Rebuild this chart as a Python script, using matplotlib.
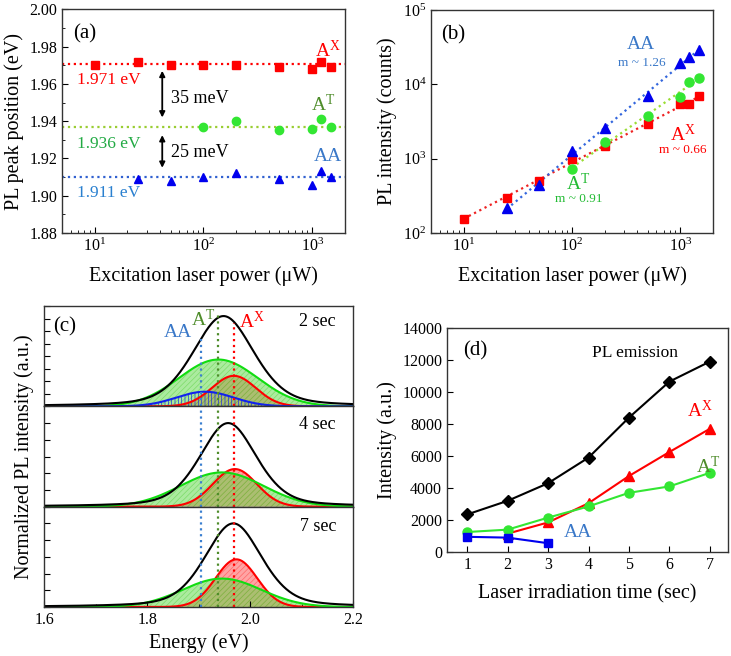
import numpy as np
import matplotlib
matplotlib.use('Agg')
import matplotlib.pyplot as plt
from matplotlib.ticker import MultipleLocator, LogLocator, LogFormatterMathtext, NullFormatter, NullLocator

plt.rcParams['font.family'] = 'Liberation Serif'
plt.rcParams['mathtext.fontset'] = 'custom'
plt.rcParams['mathtext.rm'] = 'Liberation Serif'
plt.rcParams['mathtext.it'] = 'Liberation Serif:italic'
plt.rcParams['hatch.linewidth'] = 0.5
plt.rcParams['xtick.direction'] = 'in'
plt.rcParams['ytick.direction'] = 'in'
plt.rcParams['axes.edgecolor'] = '#333333'
plt.rcParams['axes.linewidth'] = 1.0

# (a) PL peak position vs excitation power
power = [10, 25, 50, 100, 200, 500, 1000, 1200, 1500]
pos_ax = [1.970, 1.972, 1.970, 1.970, 1.970, 1.969, 1.968, 1.972, 1.969]
power_at = [100, 200, 500, 1000, 1200, 1500]
pos_at = [1.937, 1.940, 1.935, 1.936, 1.941, 1.937]
power_aa = [25, 50, 100, 200, 500, 1000, 1200, 1500]
pos_aa = [1.909, 1.908, 1.910, 1.912, 1.909, 1.906, 1.913, 1.910]
levels = [1.9705, 1.937, 1.910]

# (b) PL intensity vs excitation power
int_ax = [156, 298, 504, 1000, 1500, 2900, 5400, 5400, 6900]
int_at = [723, 1700, 3800, 6760, 10900, 12300]
int_aa = [215, 445, 1250, 2620, 7040, 19100, 23500, 28900]

# (c) fitted peaks: centre (eV), height, FWHM (eV) for 2, 4, 7 sec
spec_times = ['2 sec', '4 sec', '7 sec']
tot_c = [1.948, 1.957, 1.967]
tot_h = [1.08, 1.0, 1.0]
tot_w = [0.14, 0.13, 0.13]
at_c = [1.938, 1.945, 1.945]
at_h = [0.56, 0.41, 0.34]
at_w = [0.18, 0.19, 0.18]
axc_c = [1.968, 1.970, 1.973]
axc_h = [0.365, 0.45, 0.57]
axc_w = [0.10, 0.10, 0.095]
aa_c = 1.912
aa_h = 0.175
aa_w = 0.13
marks = [1.905, 1.938, 1.969]

# (d) intensity vs irradiation time
t = [1, 2, 3, 4, 5, 6, 7]
pl_em = [2350, 3200, 4300, 5900, 8400, 10650, 11900]
t_ax = [2, 3, 4, 5, 6, 7]
d_ax = [1150, 1850, 3050, 4750, 6250, 7700]
d_at = [1250, 1400, 2150, 2850, 3700, 4100, 4950]
t_aa = [1, 2, 3]
d_aa = [950, 900, 550]

RED = '#ff0000'
GRN = '#33e633'
BLU = '#0000ee'
OLIVE = '#4e8c2a'

fig = plt.figure(figsize=(7.31, 6.56), dpi=100)


def style(ax):
    ax.tick_params(which='both', top=False, right=False, labelsize=11.5)
    ax.tick_params(which='major', length=4)
    ax.tick_params(which='minor', length=2)


# ---- (a)
axa = fig.add_axes([0.0848, 0.6448, 0.387, 0.341])
axa.set_xscale('log')
for lev, col in zip(levels, [RED, '#9acd32', '#3060d0']):
    axa.axhline(lev, color=col, ls=':', lw=1.6)
axa.plot(power, pos_ax, 's', color=RED, ms=5.5)
axa.plot(power_at, pos_at, 'o', color=GRN, ms=6)
axa.plot(power_aa, pos_aa, '^', color=BLU, ms=6)
axa.set_xlim(5, 2000)
axa.set_ylim(1.88, 2.0)
axa.yaxis.set_major_locator(MultipleLocator(0.02))
axa.yaxis.set_minor_locator(MultipleLocator(0.01))
axa.yaxis.set_major_formatter(plt.FormatStrFormatter('%.2f'))
axa.xaxis.set_major_formatter(LogFormatterMathtext())
style(axa)
axa.set_ylabel('PL peak position (eV)', fontsize=14.5)
axa.set_xlabel('Excitation laser power (μW)', fontsize=14.5, labelpad=8)
axa.text(0.08, 0.89, '(a)', transform=axa.transAxes, fontsize=15, ha='center', va='center')
axa.text(1400, 1.978, r'A$^{\rm X}$', color=RED, fontsize=14, ha='center', va='center')
axa.text(13.5, 1.962, '1.971 eV', color=RED, fontsize=12.5, ha='center', va='center')
axa.text(1270, 1.949, r'A$^{\rm T}$', color=OLIVE, fontsize=14, ha='center', va='center')
axa.text(13.5, 1.928, '1.936 eV', color='#22aa44', fontsize=12.5, ha='center', va='center')
axa.text(1400, 1.921, 'AA', color='#3a78c8', fontsize=14, ha='center', va='center')
axa.text(13.5, 1.9015, '1.911 eV', color='#2a80d0', fontsize=12.5, ha='center', va='center')
axa.annotate('', xy=(41.8, 1.9405), xytext=(41.8, 1.9685),
             arrowprops=dict(arrowstyle='<|-|>', color='k', lw=1.3, mutation_scale=8))
axa.annotate('', xy=(41.8, 1.9135), xytext=(41.8, 1.9340),
             arrowprops=dict(arrowstyle='<|-|>', color='k', lw=1.3, mutation_scale=8))
axa.text(50, 1.952, '35 meV', fontsize=13, ha='left', va='center')
axa.text(50, 1.923, '25 meV', fontsize=13, ha='left', va='center')

# ---- (b)
axb = fig.add_axes([0.5896, 0.6448, 0.3858, 0.340])
axb.set_xscale('log')
axb.set_yscale('log')
for xs, ys, col in [(power, int_ax, '#ee2222'), (power_at, int_at, '#99dd33'), (power_aa, int_aa, '#3366dd')]:
    k, b = np.polyfit(np.log10(xs), np.log10(ys), 1)
    xf = np.array([min(xs), max(xs)])
    axb.plot(xf, 10 ** (k * np.log10(xf) + b), ':', color=col, lw=1.6)
axb.plot(power, int_ax, 's', color=RED, ms=6)
axb.plot(power_at, int_at, 'o', color=GRN, ms=6.5)
axb.plot(power_aa, int_aa, '^', color=BLU, ms=6.5)
axb.set_xlim(5, 2000)
axb.set_ylim(100, 1e5)
axb.xaxis.set_major_formatter(LogFormatterMathtext())
axb.yaxis.set_major_formatter(LogFormatterMathtext())
axb.yaxis.set_minor_locator(NullLocator())
style(axb)
axb.set_ylabel('PL intensity (counts)', fontsize=14.5)
axb.set_xlabel('Excitation laser power (μW)', fontsize=14.5, labelpad=8)
axb.text(0.08, 0.89, '(b)', transform=axb.transAxes, fontsize=15, ha='center', va='center')
axb.text(437, 33800, 'AA', color='#3a78c8', fontsize=14, ha='center', va='center')
axb.text(437, 19500, 'm ~ 1.26', color='#3a78c8', fontsize=9.5, ha='center', va='center')
axb.text(1050, 2090, r'A$^{\rm X}$', color=RED, fontsize=14, ha='center', va='center')
axb.text(1050, 1290, 'm ~ 0.66', color=RED, fontsize=9.5, ha='center', va='center')
axb.text(113, 470, r'A$^{\rm T}$', color='#22bb33', fontsize=14, ha='center', va='center')
axb.text(115, 289, 'm ~ 0.91', color='#22bb33', fontsize=9.5, ha='center', va='center')


# ---- (c)
def peak(x, c, h, w, eta=0.0):
    g = np.exp(-4 * np.log(2) * ((x - c) / w) ** 2)
    lz = 1 / (1 + 4 * ((x - c) / w) ** 2)
    return h * ((1 - eta) * g + eta * lz)


energy = np.linspace(1.6, 2.2, 601)
c_left, c_w, c_bot, c_h = 0.0606, 0.4227, 0.0747, 0.4588 / 3
axes_c = []
for i in range(3):
    ax = fig.add_axes([c_left, c_bot + (2 - i) * c_h, c_w, c_h])
    axes_c.append(ax)
    red = peak(energy, axc_c[i], axc_h[i], axc_w[i])
    grn = peak(energy, at_c[i], at_h[i], at_w[i])
    tot = peak(energy, tot_c[i], tot_h[i], tot_w[i], eta=0.35)
    ax.fill_between(energy, red, color='#ff9a9a', edgecolor='#ff6060', hatch='//////', lw=0, alpha=0.9)
    ax.plot(energy, red, color=RED, lw=1.5)
    ax.fill_between(energy, grn, color=(0.35, 0.85, 0.25, 0.5), edgecolor=(0.3, 0.8, 0.2, 0.5),
                    hatch='//////', lw=0)
    ax.plot(energy, grn, color='#11dd11', lw=1.5)
    if i == 0:
        blu = peak(energy, aa_c, aa_h, aa_w)
        ax.fill_between(energy, blu, color='none', edgecolor='#2233dd', hatch='|||||', lw=0)
        ax.plot(energy, blu, color='#1122ee', lw=1.5)
    ax.plot(energy, tot, color='k', lw=1.5)
    tops = [0.70, 0.91, 0.83] if i == 0 else [1, 1, 1]
    for xm, col, ym in zip(marks, ['#3a7fd0', '#4e8c2a', '#ff0000'], tops):
        ax.axvline(xm, ymax=ym, color=col, ls=':', lw=1.6)
    ax.set_xlim(1.6, 2.2)
    ax.set_ylim(0, 1.2)
    ax.yaxis.set_major_locator(MultipleLocator(0.15 if i == 0 else 0.2))
    ax.yaxis.set_major_formatter(NullFormatter())
    ax.tick_params(axis='y', which='both', right=False, length=4)
    ax.xaxis.set_major_locator(MultipleLocator(0.2))
    ax.xaxis.set_minor_locator(MultipleLocator(0.1))
    if i < 2:
        ax.tick_params(axis='x', which='both', bottom=False, top=False, labelbottom=False)
    else:
        style(ax)
        ax.xaxis.set_major_formatter(plt.FormatStrFormatter('%.1f'))
    ax.text(2.131, [1.01, 0.98, 0.957][i], spec_times[i], fontsize=13, ha='center', va='center')

axes_c[0].text(1.64, 0.95, '(c)', fontsize=15, ha='center', va='center')
axes_c[0].text(1.86, 0.886, 'AA', color='#3a78c8', fontsize=14, ha='center', va='center')
axes_c[0].text(1.908, 1.04, r'A$^{\rm T}$', color=OLIVE, fontsize=14, ha='center', va='center')
axes_c[0].text(2.003, 1.02, r'A$^{\rm X}$', color=RED, fontsize=14, ha='center', va='center')
axes_c[2].set_xlabel('Energy (eV)', fontsize=14.5)
axes_c[1].set_ylabel('Normalized PL intensity (a.u.)', fontsize=14.5)

# ---- (d)
axd = fig.add_axes([0.6115, 0.1585, 0.3844, 0.3415])
axd.plot(t, pl_em, 'D-', color='k', ms=6, lw=1.5)
axd.plot(t_ax, d_ax, '^-', color=RED, ms=7, lw=1.5)
axd.plot(t, d_at, 'o-', color=GRN, ms=6.5, lw=1.5)
axd.plot(t_aa, d_aa, 's-', color=BLU, ms=5.5, lw=1.5)
axd.set_xlim(0.5, 7.45)
axd.set_ylim(0, 14000)
axd.yaxis.set_major_locator(MultipleLocator(2000))
axd.xaxis.set_major_locator(MultipleLocator(1))
style(axd)
axd.set_ylabel('Intensity (a.u.)', fontsize=14.5)
axd.set_xlabel('Laser irradiation time (sec)', fontsize=14.5, labelpad=8)
axd.text(0.1, 0.9, '(d)', transform=axd.transAxes, fontsize=15, ha='center', va='center')
axd.text(5.15, 12440, 'PL emission', fontsize=12.5, ha='center', va='center')
axd.text(6.75, 8850, r'A$^{\rm X}$', color=RED, fontsize=14, ha='center', va='center')
axd.text(6.96, 5350, r'A$^{\rm T}$', color=OLIVE, fontsize=14, ha='center', va='center')
axd.text(3.73, 1190, 'AA', color='#3a78c8', fontsize=14, ha='center', va='center')

fig.savefig('out.png', dpi=100)
